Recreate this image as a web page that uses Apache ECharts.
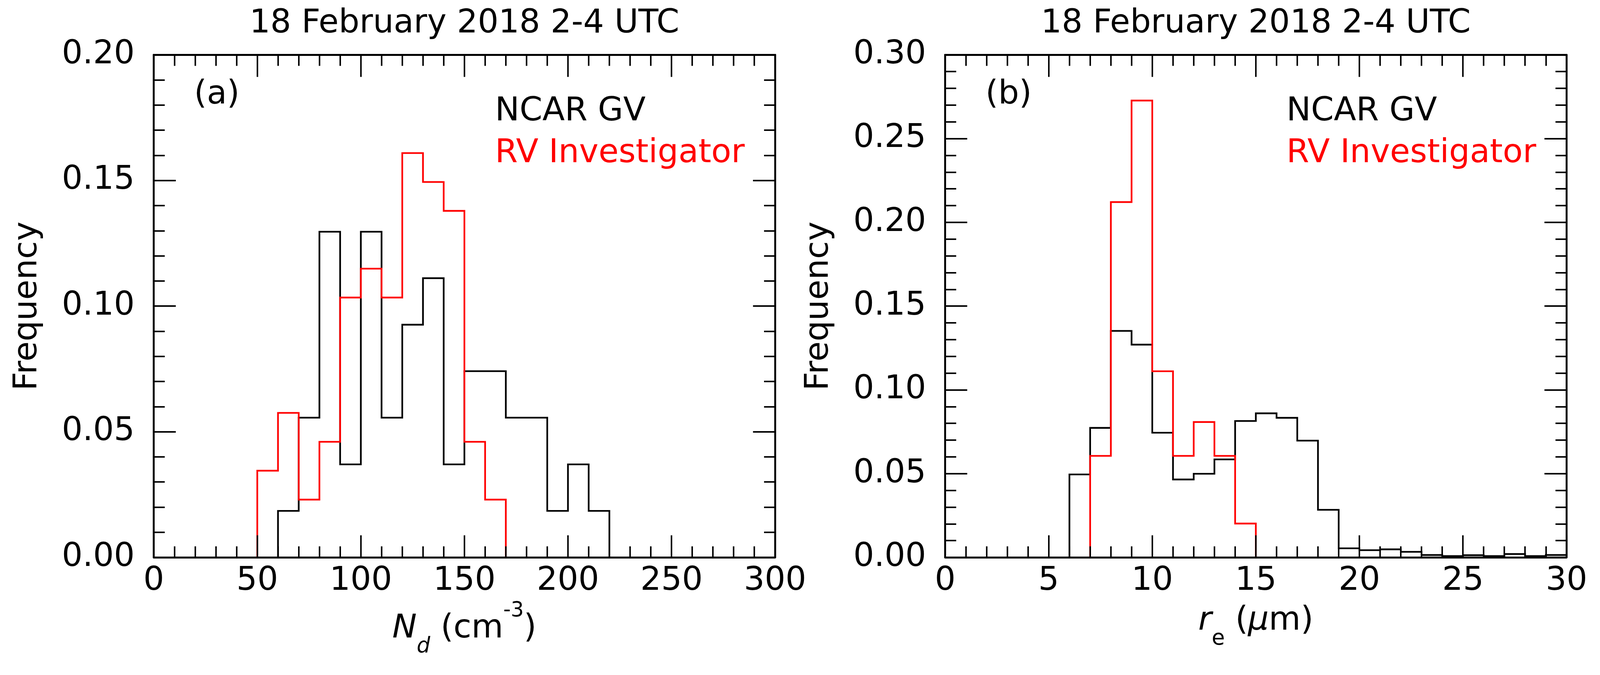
<!DOCTYPE html>
<html>
<head>
<meta charset="utf-8">
<script src="https://cdn.jsdelivr.net/npm/echarts@6/dist/echarts.min.js"></script>
<style>
html,body{margin:0;padding:0;background:#fff;overflow:hidden;}
#chart{position:absolute;left:0;top:0;}
</style>
</head>
<body>
<div id="chart"></div>
<script>
// ---------- data ----------
const titleText = '18 February 2018 2-4 UTC';
const seriesNames = ['NCAR GV', 'RV Investigator'];
const seriesColors = ['#000000', '#ff0000'];

// Panel (a): droplet number concentration, bins of 10 cm^-3 (edges 50..220)
const ndEdges = [50, 60, 70, 80, 90, 100, 110, 120, 130, 140, 150, 160, 170, 180, 190, 200, 210, 220];
const ncarNd = [0, 0.0185, 0.0556, 0.1296, 0.0370, 0.1296, 0.0556, 0.0926, 0.1111, 0.0370, 0.0741, 0.0741, 0.0556, 0.0556, 0.0185, 0.0370, 0.0185];
const rvNd   = [0.0345, 0.0575, 0.0230, 0.0460, 0.1034, 0.1149, 0.1034, 0.1609, 0.1494, 0.1379, 0.0460, 0.0230, 0, 0, 0, 0, 0];

// Panel (b): effective radius, bins of 1 um (edges 6..30)
const reEdges = [6, 7, 8, 9, 10, 11, 12, 13, 14, 15, 16, 17, 18, 19, 20, 21, 22, 23, 24, 25, 26, 27, 28, 29, 30];
const ncarRe = [0.0495, 0.0773, 0.1352, 0.1270, 0.0744, 0.0465, 0.0499, 0.0585, 0.0814, 0.0860, 0.0833, 0.0697, 0.0284, 0.0054, 0.0043, 0.0048, 0.0033, 0.0014, 0.0008, 0.0013, 0.0008, 0.0020, 0.0008, 0.0014];
const rvRe   = [0, 0.0606, 0.2121, 0.2727, 0.1111, 0.0606, 0.0808, 0.0606, 0.0202, 0, 0, 0, 0, 0, 0, 0, 0, 0, 0, 0, 0, 0, 0, 0];

// Axis ranges / ticks
const ndAxis = {min: 0, max: 300, interval: 50};
const reAxis = {min: 0, max: 30, interval: 5};
const freqAxisA = {min: 0, max: 0.20, interval: 0.05};
const freqAxisB = {min: 0, max: 0.30, interval: 0.05};
const panelLabels = ['(a)', '(b)'];

// ---------- layout (designed for 4205 x 1727, scaled to the viewport) ----------
const W0 = 4205, H0 = 1727;
const vw = window.innerWidth || W0, vh = window.innerHeight || H0;
const s = Math.min(vw / W0, vh / H0);
const P = v => v * s;
const el = document.getElementById('chart');
el.style.width = Math.round(W0 * s) + 'px';
el.style.height = Math.round(H0 * s) + 'px';

const FONT = 'DejaVu Sans';
const FS = P(86);
const grids = [
  {left: 404, top: 144, width: 1633, height: 1320},
  {left: 2484, top: 144, width: 1633, height: 1320}
];

function stepData(edges, vals) {
  let i0 = vals.findIndex(v => v > 0);
  let i1 = -1;
  for (let i = vals.length - 1; i >= 0; i--) { if (vals[i] > 0) { i1 = i; break; } }
  const d = [[edges[i0], 0]];
  for (let i = i0; i <= i1; i++) d.push([edges[i], vals[i]]);
  d.push([edges[i1 + 1], 0]);
  return d;
}

const axisLineStyle = {show: true, onZero: false, lineStyle: {color: '#000', width: P(5)}};
const tickStyle = {show: true, inside: true, length: P(58), lineStyle: {color: '#000', width: P(4)}};
const minorStyle = {show: true, splitNumber: 5, length: P(29), lineStyle: {color: '#000', width: P(4)}};

function xAx(gridIndex, rng, pos) {
  return {
    type: 'value', gridIndex, position: pos, min: rng.min, max: rng.max, interval: rng.interval,
    axisLine: axisLineStyle, axisTick: tickStyle, minorTick: minorStyle,
    splitLine: {show: false}, minorSplitLine: {show: false}, z: 5,
    axisLabel: {show: pos === 'bottom', color: '#000', fontFamily: FONT, fontSize: FS, margin: P(20),
      showMinLabel: true, showMaxLabel: true}
  };
}
function yAx(gridIndex, rng, pos) {
  return {
    type: 'value', gridIndex, position: pos, min: rng.min, max: rng.max, interval: rng.interval,
    axisLine: axisLineStyle, axisTick: tickStyle, minorTick: minorStyle,
    splitLine: {show: false}, minorSplitLine: {show: false}, z: 5,
    axisLabel: {show: pos === 'left', color: '#000', fontFamily: FONT, fontSize: FS, margin: P(50),
      formatter: v => v.toFixed(2), showMinLabel: true, showMaxLabel: true}
  };
}

function lineSeries(name, data, color, xi, yi) {
  return {
    name, type: 'line', step: 'end', data, xAxisIndex: xi, yAxisIndex: yi,
    symbol: 'none', z: 2, animation: false, clip: true,
    lineStyle: {color, width: P(4.5), join: 'miter', cap: 'butt'}
  };
}

const MID = 0.297 * 86; // distance baseline -> em middle (design px)

const graphics = [];
grids.forEach((g, i) => {
  const cx = g.left + g.width / 2;
  graphics.push({type: 'text', x: P(cx), y: P(88 - MID), style: {text: titleText, fontFamily: FONT, fontSize: FS, fill: '#000', align: 'center', verticalAlign: 'middle'}});
  graphics.push({type: 'text', x: P(g.left + 106), y: P(275 - MID), style: {text: panelLabels[i], fontFamily: FONT, fontSize: FS, fill: '#000', align: 'left', verticalAlign: 'middle'}});
  graphics.push({type: 'text', x: P(g.left + 897), y: P(319 - MID), style: {text: seriesNames[0], fontFamily: FONT, fontSize: FS, fill: seriesColors[0], align: 'left', verticalAlign: 'middle'}});
  graphics.push({type: 'text', x: P(g.left + 897), y: P(429 - MID), style: {text: seriesNames[1], fontFamily: FONT, fontSize: FS, fill: seriesColors[1], align: 'left', verticalAlign: 'middle'}});
  graphics.push({type: 'text', x: P(g.left - 305 - MID), y: P(g.top + g.height / 2), rotation: Math.PI / 2,
    style: {text: 'Frequency', fontFamily: FONT, fontSize: FS, fill: '#000', align: 'center', verticalAlign: 'middle'}});
});

const L = 150;
const rich = {
  it: {fontFamily: FONT, fontSize: FS, fontStyle: 'italic', lineHeight: P(L), fill: '#000'},
  n: {fontFamily: FONT, fontSize: FS, lineHeight: P(L), fill: '#000'},
  subi: {fontFamily: FONT, fontSize: P(56), fontStyle: 'italic', lineHeight: P(84), verticalAlign: 'bottom', fill: '#000'},
  sub: {fontFamily: FONT, fontSize: P(56), lineHeight: P(84), verticalAlign: 'bottom', fill: '#000'},
  sup: {fontFamily: FONT, fontSize: P(54), lineHeight: P(74), verticalAlign: 'top', fill: '#000'}
};
graphics.push({type: 'text', x: P(grids[0].left + grids[0].width / 2), y: P(1678 - MID),
  style: {text: '{it|N}{subi|d}{n| (cm}{sup|-3}{n|)}', rich, fontFamily: FONT, fontSize: FS, fill: '#000', align: 'center', verticalAlign: 'middle'}});
graphics.push({type: 'text', x: P(grids[1].left + grids[1].width / 2), y: P(1657 - MID),
  style: {text: '{it|r}{sub|e}{n| (}{it|\u03bc}{n|m)}', rich, fontFamily: FONT, fontSize: FS, fill: '#000', align: 'center', verticalAlign: 'middle'}});

const option = {
  backgroundColor: '#ffffff',
  animation: false,
  grid: grids.map(g => ({left: P(g.left), top: P(g.top), width: P(g.width), height: P(g.height), containLabel: false})),
  xAxis: [xAx(0, ndAxis, 'bottom'), xAx(0, ndAxis, 'top'), xAx(1, reAxis, 'bottom'), xAx(1, reAxis, 'top')],
  yAxis: [yAx(0, freqAxisA, 'left'), yAx(0, freqAxisA, 'right'), yAx(1, freqAxisB, 'left'), yAx(1, freqAxisB, 'right')],
  series: [
    lineSeries(seriesNames[0], stepData(ndEdges, ncarNd), seriesColors[0], 0, 0),
    lineSeries(seriesNames[1], stepData(ndEdges, rvNd), seriesColors[1], 0, 0),
    lineSeries(seriesNames[0], stepData(reEdges, ncarRe), seriesColors[0], 2, 2),
    lineSeries(seriesNames[1], stepData(reEdges, rvRe), seriesColors[1], 2, 2)
  ],
  graphic: graphics
};

const chart = echarts.init(el, null, {renderer: 'canvas'});
chart.setOption(option);
</script>
</body>
</html>
